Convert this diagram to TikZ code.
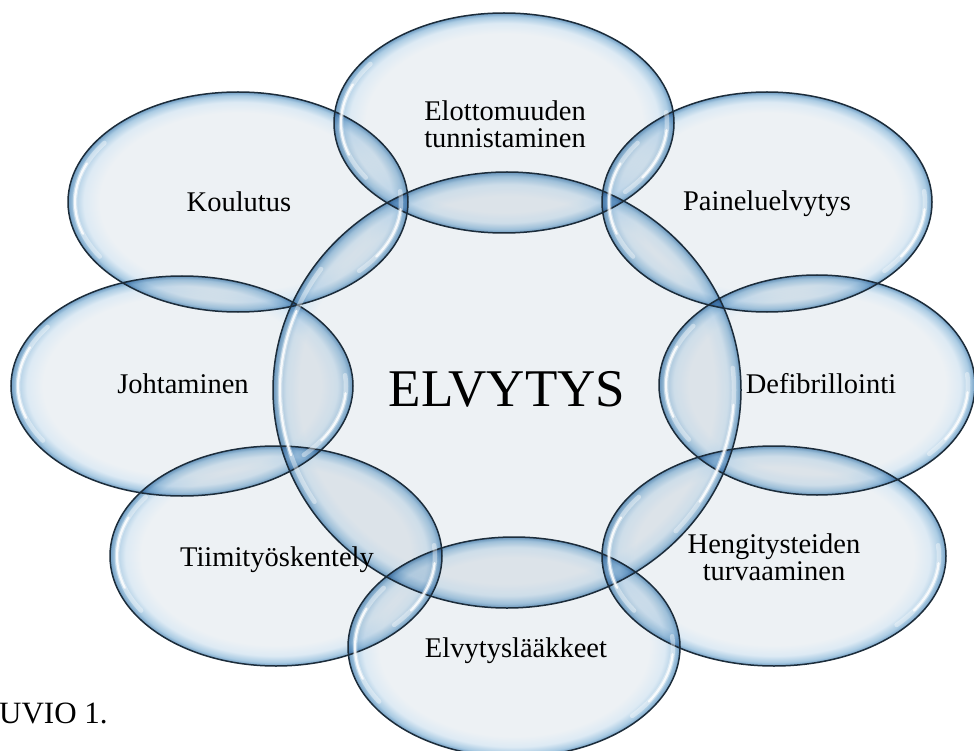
\documentclass[tikz,border=0pt]{standalone}
\usepackage{fontspec}
\setmainfont{Liberation Serif}
\usetikzlibrary{shapes.geometric}
\definecolor{bin}{HTML}{EDF1F4}
\definecolor{bmid}{HTML}{DDEAF4}
\definecolor{brim}{HTML}{AACBE3}
\definecolor{bedge}{HTML}{6F9CC2}
\definecolor{rimline}{HTML}{1C2C3A}
\pgfdeclareradialshading{bubble}{\pgfpoint{0bp}{0bp}}{color(0bp)=(bin); color(20.3bp)=(bin); color(22.7bp)=(bmid); color(24.2bp)=(brim); color(25bp)=(bedge); color(50bp)=(bedge)}
\pgfdeclareradialshading{bigbubble}{\pgfpoint{0bp}{0bp}}{color(0bp)=(bin); color(22.2bp)=(bin); color(23.6bp)=(bmid); color(24.5bp)=(brim); color(25bp)=(bedge); color(50bp)=(bedge)}
\newcommand\bubfill[6][bubble]{\node[bub, shading=#1, minimum width={2*#5pt}, minimum height={2*#6pt}] (#2) at (#3,#4) {};}
\newcommand\bubline[3]{\draw[rim] (#1.center) ellipse [x radius=#2pt, y radius=#3pt];}
\newcommand\bubgloss[3]{%
  \draw[glsoft] (#1.center) ++({145}:{#2pt-7pt} and {#3pt-7pt}) arc[start angle=145, end angle=212, x radius={#2pt-7pt}, y radius={#3pt-7pt}];
  \draw[glbright] (#1.center) ++({158}:{#2pt-7pt} and {#3pt-7pt}) arc[start angle=158, end angle=198, x radius={#2pt-7pt}, y radius={#3pt-7pt}];
  \draw[glsoft] (#1.center) ++({-42}:{#2pt-7pt} and {#3pt-7pt}) arc[start angle=-42, end angle=6, x radius={#2pt-7pt}, y radius={#3pt-7pt}];
  \draw[glbright] (#1.center) ++({-32}:{#2pt-7pt} and {#3pt-7pt}) arc[start angle=-32, end angle=-4, x radius={#2pt-7pt}, y radius={#3pt-7pt}];}
\begin{document}
\begin{tikzpicture}[x=1pt,y=-1pt,
  bub/.style={ellipse, shade, inner sep=0pt, outer sep=0pt},
  rim/.style={draw=rimline, line width=1.5pt},
  glsoft/.style={draw=white, line cap=round, line width=4.5pt, draw opacity=0.4},
  glbright/.style={draw=white, line cap=round, line width=2.2pt, draw opacity=0.85},
  lbl/.style={font=\fontsize{28.5}{27}\selectfont, align=center, inner sep=0pt},
  big/.style={font=\fontsize{53}{56}\selectfont, inner sep=0pt}]
\useasboundingbox (0,0) rectangle (974,751);
\fill[white] (0,0) rectangle (974,751);
\begin{scope}[blend mode=multiply]
\bubfill[bigbubble]{center}{507}{390}{234}{218}
\bubfill{top}{504}{123}{170}{110}
\bubfill{kou}{238}{202}{170}{110}
\bubfill{pai}{767}{202}{165}{110}
\bubfill{joh}{182}{386}{171}{110}
\bubfill{def}{817}{385}{158}{110}
\bubfill{tii}{276}{556}{166}{110}
\bubfill{hen}{774}{556}{172}{110}
\bubfill{elv}{514}{647}{166}{110}
\end{scope}
\bubline{center}{234}{218}
\bubline{top}{170}{110}
\bubline{kou}{170}{110}
\bubline{pai}{165}{110}
\bubline{joh}{171}{110}
\bubline{def}{158}{110}
\bubline{tii}{166}{110}
\bubline{hen}{172}{110}
\bubline{elv}{166}{110}
\bubgloss{center}{234}{218}
\bubgloss{top}{170}{110}
\bubgloss{kou}{170}{110}
\bubgloss{pai}{165}{110}
\bubgloss{joh}{171}{110}
\bubgloss{def}{158}{110}
\bubgloss{tii}{166}{110}
\bubgloss{hen}{172}{110}
\bubgloss{elv}{166}{110}
\node[big, anchor=base] (tcenter) at (507,406) {ELVYTYS};
\node[lbl, anchor=center] (ttop) at (505,124) {Elottomuuden\\tunnistaminen};
\node[lbl, anchor=base] (tkou) at (239,212) {Koulutus};
\node[lbl, anchor=base] (tpai) at (767,211) {Paineluelvytys};
\node[lbl, anchor=base] (tjoh) at (183,393) {Johtaminen};
\node[lbl, anchor=base] (tdef) at (821,393) {Defibrillointi};
\node[lbl, anchor=base] (ttii) at (277,566) {Tiimityöskentely};
\node[lbl, anchor=center] (then) at (774,557) {Hengitysteiden\\turvaaminen};
\node[lbl, anchor=base] (telv) at (516,657) {Elvytyslääkkeet};
\node[font=\fontsize{31}{34}\selectfont, inner sep=0pt, anchor=base west] (fig) at (-1,723) {UVIO 1.};
\end{tikzpicture}
\end{document}
